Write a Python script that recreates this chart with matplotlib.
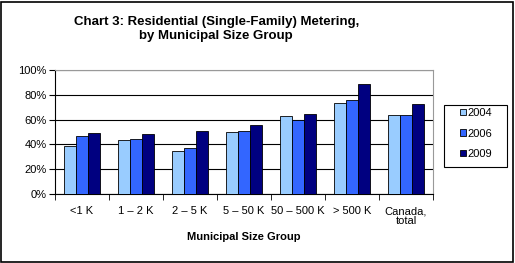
import matplotlib
matplotlib.use("Agg")
import matplotlib.pyplot as plt
import numpy as np
from matplotlib.patches import Rectangle

plt.rcParams['font.family'] = ['Liberation Sans', 'DejaVu Sans']

groups = ['<1 K', '1 \u2013 2 K', '2 \u2013 5 K', '5 \u2013 50 K', '50 \u2013 500 K', '> 500 K', 'Canada,\ntotal']
years = ['2004', '2006', '2009']
v2004 = [38.5, 43.5, 34.7, 49.7, 62.6, 73.4, 63.4]
v2006 = [46.5, 44.6, 36.8, 50.8, 59.7, 75.5, 63.4]
v2009 = [49.0, 48.4, 50.8, 55.6, 64.5, 88.7, 72.6]
colors = ['#99CCFF', '#3366FF', '#000080']

fig = plt.figure(figsize=(5.15, 2.63), dpi=100)
ax = fig.add_axes([0.1068, 0.2624, 0.734, 0.4714])

x = np.arange(len(groups))
w = 0.225
for i, (vals, c, yr) in enumerate(zip([v2004, v2006, v2009], colors, years)):
    ax.bar(x + (i - 1) * w, vals, w, color=c, edgecolor='black', linewidth=0.6, label=yr, zorder=3)

ax.set_xlim(-0.5, len(groups) - 0.5)
ax.set_ylim(0, 100)
ax.set_yticks(range(0, 101, 20))
ax.set_yticklabels([f'{v}%' for v in range(0, 101, 20)], fontsize=8)
ax.yaxis.grid(True, color='black', linewidth=0.8, zorder=0)
ax.set_xticks(x)
ax.set_xticklabels(groups, fontsize=8, linespacing=0.95)
ax.tick_params(axis='x', which='major', length=0, pad=9)
ax.set_xticks(np.arange(-0.5, len(groups), 1), minor=True)
ax.tick_params(axis='x', which='minor', length=4, direction='out')
ax.tick_params(axis='y', length=4, direction='out', pad=2)
for s in ['top', 'right']:
    ax.spines[s].set_color('#999999')
ax.spines['left'].set_color('black')
ax.spines['bottom'].set_color('black')
ax.set_xlabel('Municipal Size Group', fontsize=8, fontweight='bold', labelpad=4)

fig.text(0.42, 1 - 22 / 263, 'Chart 3: Residential (Single-Family) Metering,', ha='center', va='center',
         fontsize=9.5, fontweight='bold')
fig.text(0.42, 1 - 36.5 / 263, 'by Municipal Size Group', ha='center', va='center',
         fontsize=9.5, fontweight='bold')

# legend box drawn separately so its padding matches the reference
fig.patches.append(Rectangle((444 / 515, 1 - 167 / 263), 63 / 515, 62 / 263, transform=fig.transFigure,
                             fill=False, edgecolor='black', linewidth=0.8))
fig.legend(loc='upper left', bbox_to_anchor=(460 / 515, 1 - 108 / 263), fontsize=8,
           frameon=False, handlelength=0.5, handleheight=0.5, handletextpad=0.15,
           labelspacing=0.95, borderpad=0, borderaxespad=0)

fig.patches.append(Rectangle((0.002, 0.004), 0.994, 0.99, transform=fig.transFigure,
                             fill=False, edgecolor='black', linewidth=1.2))

fig.savefig('out.png', dpi=100)
